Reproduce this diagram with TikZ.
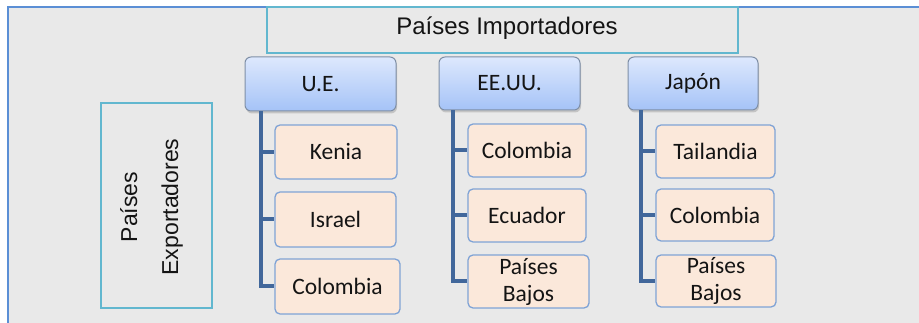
\documentclass[tikz,border=0pt]{standalone}
\usepackage{fontspec}
\setmainfont{Carlito}
\newfontfamily\arialf{Liberation Sans}
\usetikzlibrary{shadows}
\definecolor{framec}{HTML}{5B8FD5}
\definecolor{bgc}{HTML}{E9E9E9}
\definecolor{tealc}{HTML}{62B7CF}
\definecolor{hdrtop}{HTML}{DDE8FD}
\definecolor{hdrbot}{HTML}{A5C3F7}
\definecolor{hdrborder}{HTML}{7F8FA6}
\definecolor{chfill}{HTML}{FBE8DA}
\definecolor{chborder}{HTML}{7FA3D6}
\definecolor{connc}{HTML}{41679B}
\definecolor{txtc}{HTML}{141414}
\tikzset{
  tealbox/.style={draw=tealc, line width=1.2pt, fill=bgc, inner sep=0pt},
  hdr/.style={draw=hdrborder, line width=1pt, rounded corners=6pt, top color=hdrtop, bottom color=hdrbot,
    drop shadow={opacity=0.35, shadow xshift=1pt, shadow yshift=-2.5pt},
    inner sep=0pt, text=txtc, font=\fontsize{23.5}{27}\selectfont},
  child/.style={draw=chborder, line width=1.3pt, rounded corners=5pt, fill=chfill,
    inner sep=0pt, align=center, text=txtc, font=\fontsize{23.5}{27}\selectfont},
  conn/.style={draw=connc, line width=4pt, line join=miter}
}
\begin{document}
\begin{tikzpicture}[x=1pt,y=-1pt]
\useasboundingbox (0,0) rectangle (919,323);
\clip (0,0) rectangle (919,323);
\fill[white] (0,0) rectangle (919,323);
\fill[bgc] (8,7) rectangle (930,340);
\draw[framec, line width=2.2pt] (8,340) -- (8,7) -- (930,7);

% title
\node[tealbox, minimum width=471, minimum height=46] (imp) at (502.5,30) {};
\node[font=\arialf\fontsize{24}{28}\selectfont, text=txtc, inner sep=0pt] (imptxt) at (507,28) {Países Importadores};

% exportadores
\node[tealbox, minimum width=111, minimum height=205] (exp) at (156.5,205.5) {};
\node[rotate=90, align=center, font=\arialf\fontsize{23}{41}\selectfont, text=txtc, inner sep=0pt] (exptxt) at (151.5,207) {Países\\Exportadores};

% headers
\node[hdr, minimum width=151, minimum height=54] (ue) at (320.5,84) {U.E.};
\node[hdr, minimum width=141, minimum height=53] (ee) at (509.5,83.5) {EE.UU.};
\node[hdr, minimum width=130, minimum height=53] (jp) at (693,83.5) {Japón};

% children U.E.
\node[child, minimum width=122, minimum height=54] (ue1) at (336,152) {Kenia};
\node[child, minimum width=121, minimum height=55] (ue2) at (335.5,219.5) {Israel};
\node[child, minimum width=125, minimum height=55] (ue3) at (337.5,286.5) {Colombia};

% children EE.UU.
\node[child, minimum width=118, minimum height=53] (ee1) at (527,150.5) {Colombia};
\node[child, minimum width=118, minimum height=53] (ee2) at (527,215.5) {Ecuador};
\node[child, minimum width=121, minimum height=53] (ee3) at (528.5,281.5) {Países\\Bajos};

% children Japon
\node[child, minimum width=119, minimum height=53] (jp1) at (715.5,151.5) {Tailandia};
\node[child, minimum width=118, minimum height=52] (jp2) at (715,215) {Colombia};
\node[child, minimum width=120, minimum height=52] (jp3) at (716,281) {Países\\Bajos};

% connectors
\foreach \c in {ue1,ue2,ue3} \draw[conn] ([xshift=16pt]ue.south west) |- (\c.west);
\foreach \c in {ee1,ee2,ee3} \draw[conn] ([xshift=14pt]ee.south west) |- (\c.west);
\foreach \c in {jp1,jp2,jp3} \draw[conn] ([xshift=13pt]jp.south west) |- (\c.west);
\end{tikzpicture}
\end{document}
